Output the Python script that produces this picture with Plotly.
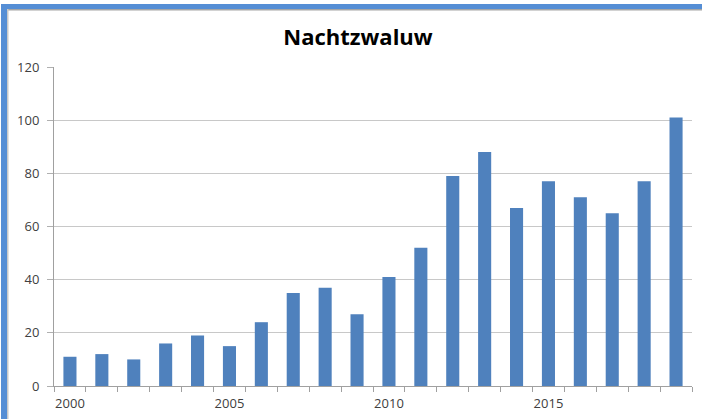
import plotly.graph_objects as go

years = list(range(2000, 2020))
counts = [11, 12, 10, 16, 19, 15, 24, 35, 37, 27, 41, 52, 79, 88, 67, 77, 71, 65, 77, 101]
x_ticks = [2000, 2005, 2010, 2015]
y_ticks = [0, 20, 40, 60, 80, 100, 120]

W, H = 702, 419
L, R, T, B = 54, 10, 67, 33
pw, ph = W - L - R, H - T - B

def px(x):
    return (x - L) / pw

def py(y):
    return (H - B - y) / ph

fig = go.Figure(go.Bar(x=years, y=counts, marker=dict(color="#4F81BD", line=dict(width=0)),
                       width=0.41))

shapes = [
    dict(type="rect", xref="paper", yref="paper", x0=px(1), x1=px(W + 5), y0=py(4), y1=py(9),
         fillcolor="#558ED5", line=dict(width=0), layer="above"),
    dict(type="rect", xref="paper", yref="paper", x0=px(1), x1=px(7), y0=py(4), y1=py(H + 5),
         fillcolor="#558ED5", line=dict(width=0), layer="above"),
    dict(type="rect", xref="paper", yref="paper", x0=px(7), x1=px(W + 5), y0=py(9), y1=py(10.5),
         fillcolor="#A6A6A6", line=dict(width=0), layer="above"),
    dict(type="rect", xref="paper", yref="paper", x0=px(7), x1=px(8.5), y0=py(9), y1=py(H + 5),
         fillcolor="#C8C8C8", line=dict(width=0), layer="above"),
]

fig.update_layout(
    width=W, height=H,
    margin=dict(l=L, r=R, t=T, b=B, autoexpand=False),
    paper_bgcolor="white", plot_bgcolor="white",
    showlegend=False,
    title=dict(text="<b>Nachtzwaluw</b>", x=358 / W, xanchor="center", y=1 - 37 / H, yanchor="middle",
               font=dict(family="Open Sans, Liberation Sans, sans-serif", size=22, color="#000000")),
    font=dict(family="Open Sans, Liberation Sans, sans-serif", size=13, color="#404040"),
    xaxis=dict(range=[1999.5, 2019.5], tickmode="array", tickvals=x_ticks, ticktext=[str(v) for v in x_ticks],
               ticks="", showgrid=False, showline=True, linecolor="#A0A0A0", linewidth=1,
               minor=dict(ticks="outside", tick0=1999.5, dtick=1, ticklen=5, tickcolor="#A0A0A0", showgrid=False),
               zeroline=False, automargin=False, ticklabelstandoff=5, tickfont=dict(size=13, color="#404040")),
    yaxis=dict(range=[0, 120], tickmode="array", tickvals=y_ticks, ticks="outside", ticklen=6,
               tickcolor="#B0B0B0", showgrid=True, gridcolor="#C8C8C8", gridwidth=1,
               showline=True, linecolor="#A0A0A0", linewidth=1, zeroline=False, automargin=False,
               ticklabelstandoff=5, tickfont=dict(size=13, color="#404040")),
    shapes=shapes,
    bargap=0.59,
)

fig.write_html("out.html", config={"displayModeBar": False},
               post_script="document.body.style.margin='0';document.body.style.overflow='hidden';")
